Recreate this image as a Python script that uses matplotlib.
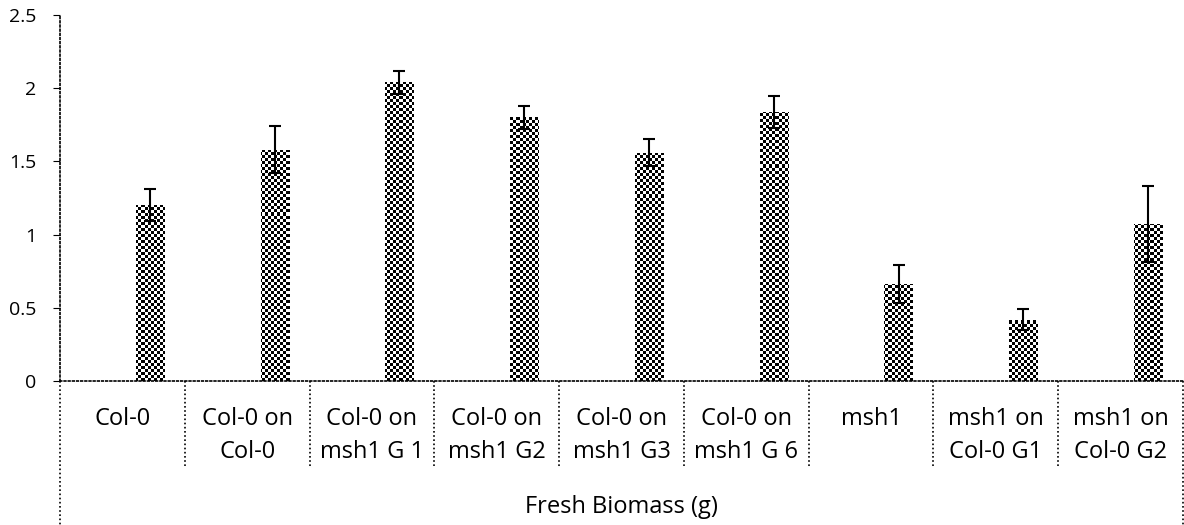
import numpy as np
import matplotlib.pyplot as plt
from matplotlib import transforms

plt.rcParams['font.family'] = ['Open Sans', 'DejaVu Sans']

categories = ['Col-0', 'Col-0 on\nCol-0', 'Col-0 on\nmsh1 G 1', 'Col-0 on\nmsh1 G2',
              'Col-0 on\nmsh1 G3', 'Col-0 on\nmsh1 G 6', 'msh1', 'msh1 on\nCol-0 G1',
              'msh1 on\nCol-0 G2']
biomass = [1.20, 1.58, 2.04, 1.80, 1.56, 1.84, 0.66, 0.42, 1.07]
errors = [0.11, 0.16, 0.08, 0.08, 0.09, 0.11, 0.13, 0.07, 0.26]
yticks = [0, 0.5, 1, 1.5, 2, 2.5]
yticklabels = ['0', '0.5', '1', '1.5', '2', '2.5']

W, H = 1184, 525
fig = plt.figure(figsize=(W / 100, H / 100), dpi=100)
ax_h = 366
ax = fig.add_axes([60 / W, 1 - 381 / H, (1183 - 60) / W, ax_h / H])

dot = (0, (1, 1.5))
x = np.arange(len(categories))
bars = ax.bar(x + 0.5 + 0.22, biomass, width=0.225, color='none', edgecolor='none')
ax.errorbar(x + 0.5 + 0.22, biomass, yerr=errors, fmt='none', ecolor='black',
            elinewidth=1.5, capsize=4.5, capthick=1.5, zorder=4)

# checkerboard fill for the bars
ax.set_xlim(0, len(categories))
ax.set_ylim(0, 2.5)
ny, nx = 366 // 3, 1123 // 3
checker = (np.add.outer(np.arange(ny), np.arange(nx)) % 2).astype(float)
for b in bars:
    im = ax.imshow(checker, cmap='gray', extent=[0, len(categories), 0, 2.5],
                   aspect='auto', interpolation='nearest', zorder=2)
    im.set_clip_path(b)

ax.set_yticks(yticks)
ax.set_yticklabels(yticklabels)
ax.set_xticks([])
ax.tick_params(axis='y', length=5, width=0.8, direction='out', labelsize=14, pad=12)
for s in ['top', 'right']:
    ax.spines[s].set_visible(False)
for s in ['left', 'bottom']:
    ax.spines[s].set_linestyle(dot)
    ax.spines[s].set_linewidth(1.2)

# category labels under the axis, one text per line, baselines 33 px apart
trans = transforms.blended_transform_factory(ax.transData, ax.transAxes)
for i, lab in enumerate(categories):
    for j, line in enumerate(lab.split('\n')):
        ax.text(i + 0.5, -(44 + 33 * j) / ax_h, line, transform=trans,
                ha='center', va='baseline', fontsize=17)
for i in range(1, len(categories)):
    ax.plot([i, i], [0, -87 / ax_h], transform=trans, color='black', lw=1.2,
            linestyle=dot, clip_on=False)
for i in [0, len(categories)]:
    ax.plot([i, i], [0, -0.4], transform=trans, color='black', lw=1.2,
            linestyle=dot, clip_on=False)
ax.text(len(categories) / 2, -132 / ax_h, 'Fresh Biomass (g)', transform=trans,
        ha='center', va='baseline', fontsize=17)

fig.savefig('out.png', dpi=100)
